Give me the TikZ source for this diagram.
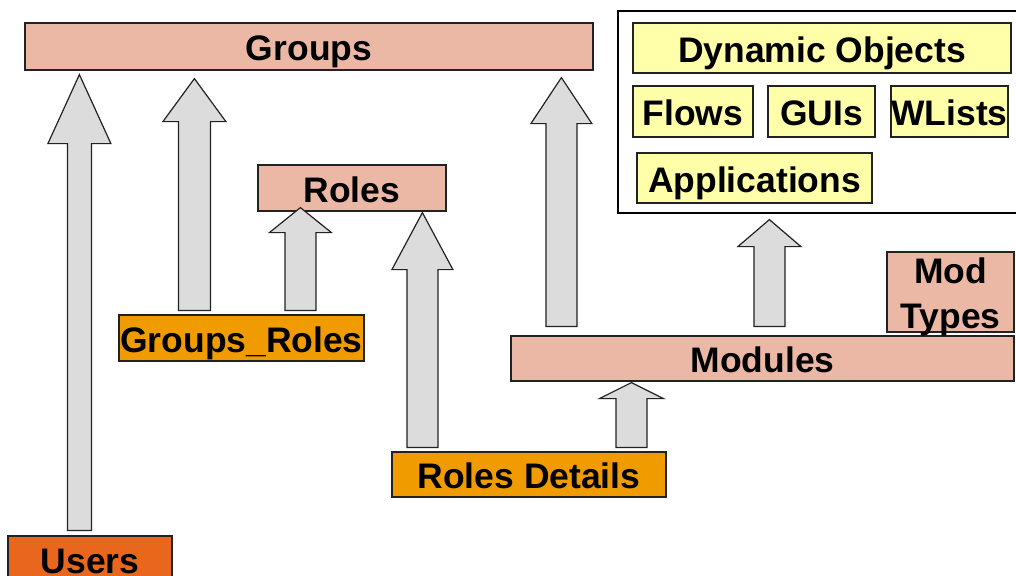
\documentclass[tikz,border=0pt]{standalone}
\usepackage{fontspec}
\setmainfont{Liberation Sans}
\usetikzlibrary{calc}

\definecolor{tablepink}{HTML}{ECB8A6}
\definecolor{linkorange}{HTML}{F09C00}
\definecolor{userorange}{HTML}{E8671C}
\definecolor{objyellow}{HTML}{FFFFAA}
\definecolor{arrowgray}{HTML}{DCDCDC}
\definecolor{edge}{HTML}{222222}

% Upward block arrow: #1 base point, #2 tip point (only its height is used),
% #3 shaft half-width, #4 head half-width, #5 head length (all in px units)
\newcommand\blockarrow[5]{%
  \draw[blockarrow] let \p1=#1, \p2=#2 in
    ({\x1-#3*0.75pt},\y1) -- ({\x1-#3*0.75pt},{\y2-#5*0.75pt}) --
    ({\x1-#4*0.75pt},{\y2-#5*0.75pt}) -- (\x1,\y2) --
    ({\x1+#4*0.75pt},{\y2-#5*0.75pt}) -- ({\x1+#3*0.75pt},{\y2-#5*0.75pt}) --
    ({\x1+#3*0.75pt},\y1) -- cycle;}

\begin{document}
\begin{tikzpicture}[x=0.75pt,y=-0.75pt,
  sz/.style 2 args={minimum width=#1*0.75pt, minimum height=#2*0.75pt},
  tbl/.style={draw=edge, line width=0.9pt, inner sep=0pt,
    font=\fontsize{26.6pt}{33.75pt}\selectfont\bfseries,
    text height=22.6pt, text depth=1.6pt},
  pinkbox/.style={tbl, fill=tablepink},
  orangebox/.style={tbl, fill=linkorange},
  userbox/.style={tbl, fill=userorange},
  yellowbox/.style={tbl, fill=objyellow},
  panelbox/.style={draw=black, line width=0.9pt, fill=white, inner sep=0pt},
  blockarrow/.style={draw=edge, fill=arrowgray, line width=0.9pt, line join=miter},
  lbl/.style={inner sep=0pt, align=center,
    font=\fontsize{26.6pt}{33.75pt}\selectfont\bfseries}]

\clip (0,0) rectangle (1016,575);
\fill[white] (0,0) rectangle (1016,575);

% dynamic objects panel
\node[panelbox, sz={402}{202}] (panel) at (819,112) {};
\node[yellowbox, sz={378}{50}] (dynobj) at (822,48) {Dynamic Objects};
\node[yellowbox, sz={120}{51}] (flows) at (693,111.5) {Flows};
\node[yellowbox, sz={107}{51}] (guis) at (821.5,111.5) {GUIs};
\node[yellowbox, sz={117}{51}] (wlists) at (949.5,111.5) {WLists};
\node[yellowbox, sz={235}{50}] (apps) at (754.5,178) {Applications};

% tables
\node[pinkbox, sz={568}{47}] (groups) at (309,46.5) {Groups};
\node[pinkbox, sz={188}{46}] (roles) at (352,188) {Roles};
\node[orangebox, sz={245}{46}] (groupsroles) at (241.5,338) {Groups\_Roles};
\node[orangebox, sz={274}{45}] (rolesdetails) at (529,474.5) {Roles Details};
\node[pinkbox, sz={503}{45}] (modules) at (762.5,358.5) {Modules};
\node[userbox, sz={164}{46}] (users) at (90,559) {Users};
\node[draw=edge, line width=0.9pt, fill=tablepink, inner sep=0pt, sz={127}{80}]
  (modtypes) at (950.5,292) {};
\node[lbl] (modtypeslabel) at ($(modtypes.center)+(0,5)$) {Mod\\Types};

% references between tables
\blockarrow{($(users.north west)+(72,-5)$)}{($(groups.south)+(0,4)$)}{12}{31.5}{69}
\blockarrow{($(groupsroles.north west)+(76,-4)$)}{($(groups.south)+(0,8)$)}{16}{31.5}{43}
\blockarrow{($(groupsroles.north west)+(182,-4)$)}{($(roles.south)+(0,-4)$)}{15.5}{31}{25}
\blockarrow{($(rolesdetails.north west)+(31,-4)$)}{($(roles.south)+(0,1)$)}{15.5}{30.5}{57}
\blockarrow{($(modules.north west)+(51,-9)$)}{($(groups.south)+(0,7)$)}{15.5}{30.5}{46}
\blockarrow{($(modules.north west)+(259,-9)$)}{($(panel.south)+(0,6)$)}{15.5}{31.5}{27}
\blockarrow{($(rolesdetails.north west)+(240,-4)$)}{($(modules.south)+(0,1)$)}{15.5}{32}{16}

\end{tikzpicture}
\end{document}
